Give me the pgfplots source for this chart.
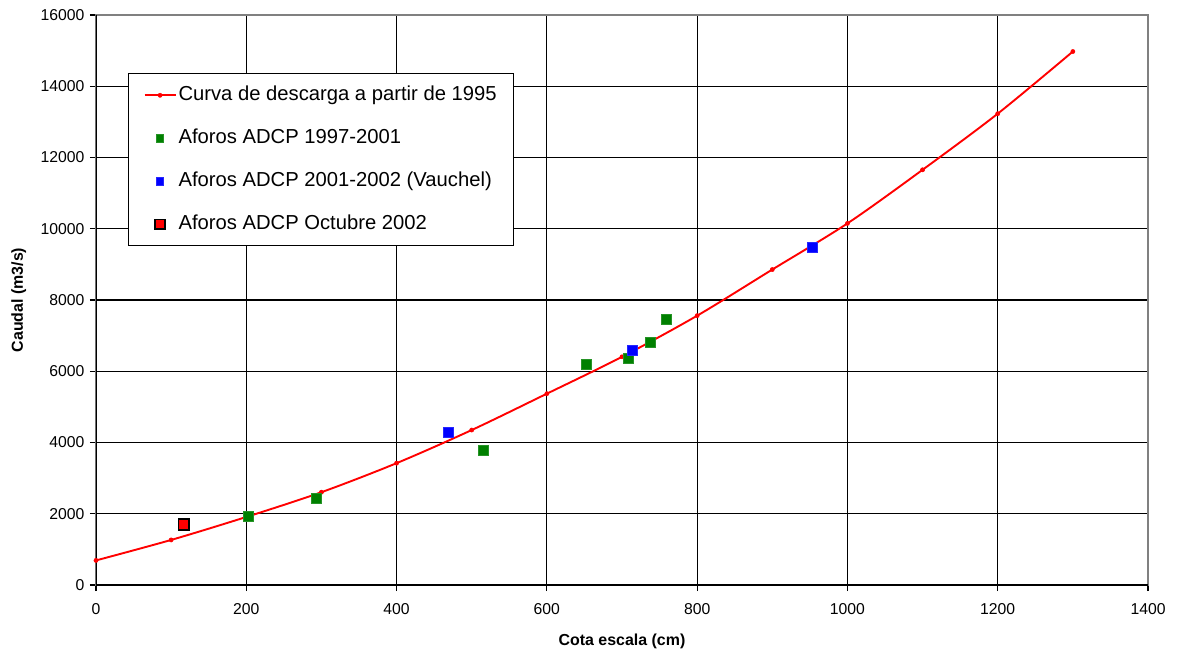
\documentclass[border=0pt]{standalone}
\usepackage{pgfplots}
\pgfplotsset{compat=1.18}
\usepackage{fontspec}
\setmainfont{Liberation Sans}
\definecolor{xlgreen}{RGB}{0,128,0}
\definecolor{xlblue}{RGB}{0,0,255}
\definecolor{xlred}{RGB}{255,0,0}
\pgfplotsset{
 lineleg/.style={legend image code/.code={\draw[mark repeat=2,mark phase=2,##1] plot coordinates {(0bp,0bp) (15.5bp,0bp) (31bp,0bp)};}},
 markleg/.style={legend image code/.code={\draw[mark repeat=2,mark phase=2,##1,mark size=#1] plot coordinates {(0bp,0bp) (15.5bp,0bp) (31bp,0bp)};}},
}
\begin{document}
\begin{tikzpicture}
\begin{axis}[name=ax, scale only axis, width=1052bp, height=570bp,
 xmin=0,xmax=1400,ymin=0,ymax=16000,
 xtick={0,200,...,1400}, ytick={0,2000,...,16000},
 scaled ticks=false,
 grid=major, grid style={black,line width=1.1bp},
 axis line style={draw=gray, line width=1.3bp},
 xtick pos=bottom, ytick pos=left, tick align=outside, major tick length=6bp,
 tick style={black,line width=1.1bp},
 tick label style={font=\fontsize{15.8}{18}\selectfont},
 /pgf/number format/assume math mode=true,
 /pgf/number format/1000 sep={},
 xticklabel style={yshift=-9bp},
 yticklabel style={xshift=-2bp},
 xlabel={Cota escala (cm)}, ylabel={Caudal (m3/s)},
 label style={font=\bfseries\fontsize{16}{19}\selectfont},
 xlabel style={at={(axis description cs:0.5,-0.1053)},anchor=base},
 ylabel style={at={(axis description cs:-0.0694,0.5)},anchor=base},
 legend style={at={(axis description cs:0.0304,0.898)}, anchor=north west,
   draw=black, line width=1.3bp, fill=white,
   inner xsep=15bp, inner ysep=10bp, row sep=20bp,
   nodes={inner sep=2bp, text height=15bp, text depth=4bp, line width=1.3bp},
   font=\fontsize{20.3}{23}\selectfont},
 legend cell align=left,
]
\addplot[xlred, line width=1.9bp, smooth, mark=*, mark size=2.1bp, mark options={fill=xlred, draw=xlred, line width=0.5bp}, lineleg] coordinates {
 (0,690) (100,1265) (200,1910) (300,2605) (400,3420) (500,4350) (600,5370)
 (700,6405) (800,7560) (900,8855) (1000,10150) (1100,11655) (1200,13230) (1300,14975)};
\addlegendentry{Curva de descarga a partir de 1995}
\addplot[only marks, mark=square*, mark size=5bp, mark options={fill=xlgreen, draw=xlgreen!85!white, line width=0.5bp}, markleg=3.6bp] coordinates {
 (202,1927) (293,2433) (516,3771) (652.5,6194) (708,6362) (737,6812) (758.6,7457)};
\addlegendentry{Aforos ADCP 1997-2001}
\addplot[only marks, mark=square*, mark size=5bp, mark options={fill=xlblue, draw=xlblue!85!white, line width=0.5bp}, markleg=3.6bp] coordinates {
 (469,4285) (714,6587) (953,9479)};
\addlegendentry{Aforos ADCP 2001-2002 (Vauchel)}
\addplot[only marks, mark=square*, mark size=5.4bp, mark options={fill=xlred, draw=black, line width=1.7bp}, markleg=4.8bp] coordinates {
 (117,1703)};
\addlegendentry{Aforos ADCP Octubre 2002}
\draw[black, line width=1.3bp] (rel axis cs:0,1) -- (rel axis cs:0,0) -- (rel axis cs:1,0);
\end{axis}
\pgfresetboundingbox
\path ([xshift=-96bp,yshift=-70bp]ax.south west) rectangle ([xshift=32bp,yshift=15bp]ax.north east);
\end{tikzpicture}
\end{document}
